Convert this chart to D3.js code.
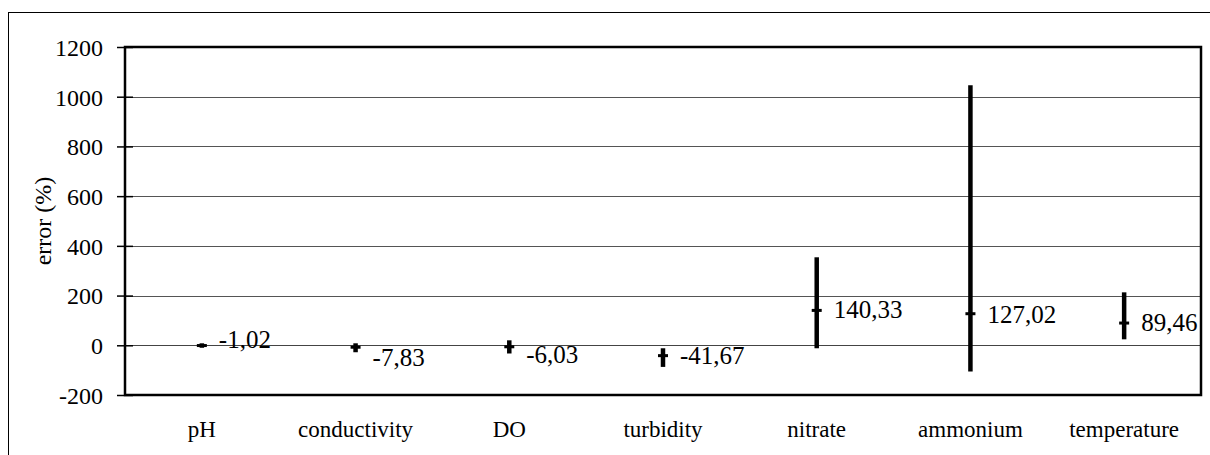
<!DOCTYPE html>
<html>
<head>
<meta charset="utf-8">
<script src="https://cdn.jsdelivr.net/npm/d3@7"></script>
</head>
<body style="margin:0">
<div id="chart"></div>
<script>
// data
var categories = ["pH", "conductivity", "DO", "turbidity", "nitrate", "ammonium", "temperature"];
var means      = [-1.02, -7.83, -6.03, -41.67, 140.33, 127.02, 89.46];
var lows       = [-10, -28, -33, -87, -12, -105, 24];
var highs      = [8, 8, 20, -12, 354, 1046, 213];
var yTicks     = [-200, 0, 200, 400, 600, 800, 1000, 1200];

// label nudges (px) for the data labels
var labelDy = [-6, 11, 8, 0, 0, 1, 0];

var FONT = "Liberation Serif";

var width = 1210, height = 455;
var margin = {left: 125, right: 9, top: 47, bottom: 60};

var svg = d3.select("#chart").append("svg")
    .attr("width", width)
    .attr("height", height);

// outer frame (runs off the right / bottom edge)
svg.append("rect")
    .attr("x", 8.5).attr("y", 12.5)
    .attr("width", width + 10).attr("height", height + 10)
    .attr("fill", "none").attr("stroke", "#000").attr("stroke-width", 1);

var x = d3.scaleBand()
    .domain(categories)
    .range([margin.left, width - margin.right]);

var y = d3.scaleLinear()
    .domain([-200, 1200])
    .range([height - margin.bottom, margin.top]);

// gridlines
svg.append("g")
    .selectAll("line")
    .data(yTicks.slice(1, -1))
    .enter().append("line")
      .attr("x1", margin.left).attr("x2", width - margin.right)
      .attr("y1", function(d) { return Math.round(y(d)) + 0.5; })
      .attr("y2", function(d) { return Math.round(y(d)) + 0.5; })
      .attr("stroke", function(d) { return d === 0 ? "#444" : "#555"; })
      .attr("stroke-width", 1);

// plot border
svg.append("rect")
    .attr("x", margin.left).attr("y", margin.top)
    .attr("width", width - margin.right - margin.left)
    .attr("height", y(-200) - y(1200))
    .attr("fill", "none").attr("stroke", "#000").attr("stroke-width", 2.5);

// y axis
var yAxis = d3.axisLeft(y)
    .tickValues(yTicks)
    .tickFormat(function(d) { return String(d); })
    .tickSizeInner(8)
    .tickSizeOuter(0)
    .tickPadding(14);

var gy = svg.append("g")
    .attr("transform", "translate(" + margin.left + ",0)")
    .call(yAxis)
    .attr("font-family", FONT)
    .attr("font-size", 24);
gy.select(".domain").remove();
gy.selectAll(".tick line")
    .attr("x1", 8).attr("x2", -8)
    .attr("stroke", "#000").attr("stroke-width", 1.5);
gy.selectAll(".tick text")
    .attr("font-family", FONT)
    .attr("font-size", 24)
    .attr("fill", "#000")
    .attr("dy", "0.35em");

// x labels
svg.append("g")
    .selectAll("text")
    .data(categories)
    .enter().append("text")
      .attr("x", function(d) { return x(d) + x.bandwidth() / 2; })
      .attr("y", 437)
      .attr("text-anchor", "middle")
      .attr("font-family", FONT)
      .attr("font-size", 23)
      .text(function(d) { return d; });

// axis title
svg.append("text")
    .attr("transform", "translate(51," + (y(-200) + y(1200)) / 2 + ") rotate(-90)")
    .attr("text-anchor", "middle")
    .attr("font-family", FONT)
    .attr("font-size", 24)
    .text("error (%)");

// error bars
var rows = categories.map(function(c, i) {
  return {cat: c, mean: means[i], lo: lows[i], hi: highs[i], dy: labelDy[i]};
});

var bars = svg.append("g").selectAll("g")
    .data(rows)
    .enter().append("g")
      .attr("transform", function(d) { return "translate(" + (x(d.cat) + x.bandwidth() / 2) + ",0)"; });

bars.append("line")
    .attr("x1", 0).attr("x2", 0)
    .attr("y1", function(d) { return y(d.hi); })
    .attr("y2", function(d) { return y(d.lo); })
    .attr("stroke", "#000")
    .attr("stroke-width", 4.5);

bars.append("line")
    .attr("x1", -5).attr("x2", 5)
    .attr("y1", function(d) { return y(d.mean); })
    .attr("y2", function(d) { return y(d.mean); })
    .attr("stroke", "#000")
    .attr("stroke-width", 3);

bars.append("text")
    .attr("x", 17)
    .attr("y", function(d) { return y(d.mean) + 8 + d.dy; })
    .attr("font-family", FONT)
    .attr("font-size", 25)
    .text(function(d) { return d.mean.toFixed(2).replace(".", ","); });
</script>
</body>
</html>
